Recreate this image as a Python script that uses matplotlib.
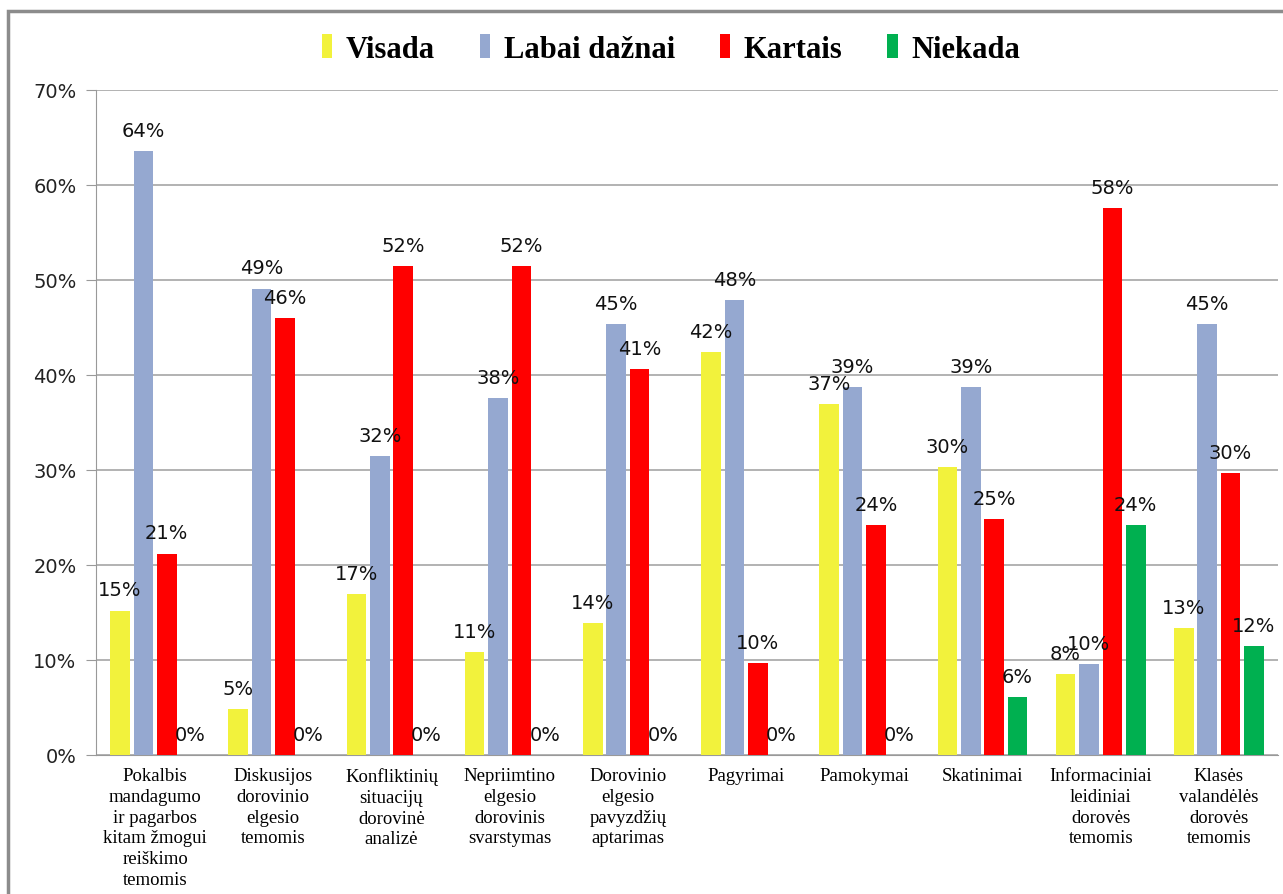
import numpy as np
import matplotlib.pyplot as plt
from matplotlib.patches import Rectangle

categories = ["Pokalbis\nmandagumo\nir pagarbos\nkitam žmogui\nreiškimo\ntemomis",
              "Diskusijos\ndorovinio\nelgesio\ntemomis",
              "Konfliktinių\nsituacijų\ndorovinė\nanalizė",
              "Nepriimtino\nelgesio\ndorovinis\nsvarstymas",
              "Dorovinio\nelgesio\npavyzdžių\naptarimas",
              "Pagyrimai",
              "Pamokymai",
              "Skatinimai",
              "Informaciniai\nleidiniai\ndorovės\ntemomis",
              "Klasės\nvalandėlės\ndorovės\ntemomis"]
visada = [15.2, 4.8, 16.9, 10.8, 13.9, 42.4, 36.9, 30.3, 8.5, 13.4]
labai_dazniai = [63.6, 49.1, 31.5, 37.6, 45.4, 47.9, 38.7, 38.7, 9.6, 45.4]
kartais = [21.2, 46.0, 51.5, 51.5, 40.6, 9.7, 24.2, 24.8, 57.6, 29.7]
niekada = [0, 0, 0, 0, 0, 0, 0, 6.1, 24.2, 11.5]
series_names = ["Visada", "Labai dažnai", "Kartais", "Niekada"]
colors = ["#F2F23C", "#95A8D0", "#FF0000", "#00B050"]

fig = plt.figure(figsize=(12.83, 8.95), dpi=100)
ax = fig.add_axes([96/1283, 1-756/895, 1182/1283, 665/895])

# outer chart border
fig.patches.append(Rectangle((8/1283, -0.05), 1.1, 1-12/895+0.05, transform=fig.transFigure,
                             fill=False, edgecolor="#8c8c8c", linewidth=2.5))

x = np.arange(len(categories))
step = 0.198
width = 0.165
all_series = [visada, labai_dazniai, kartais, niekada]
for i, (vals, name, col) in enumerate(zip(all_series, series_names, colors)):
    bars = ax.bar(x + (i - 1.5) * step, vals, width, color=col, label=name, zorder=3)
    ax.bar_label(bars, labels=[f"{v:.0f}%" for v in vals], padding=8,
                 fontsize=14, color="#111111", zorder=4)

ax.set_xlim(-0.5, len(categories) - 0.5)
ax.set_ylim(0, 70)
ax.set_yticks(range(0, 71, 10))
ax.set_yticklabels([f"{t}%" for t in range(0, 71, 10)], fontsize=14, color="#222222")
ax.set_xticks(x)
ax.set_xticklabels(categories, family="Liberation Serif", fontsize=13.5, linespacing=1.28)
ax.tick_params(axis="x", length=0, pad=9)
ax.tick_params(axis="y", length=7, color="#999999", pad=7)
ax.yaxis.grid(True, color="#a6a6a6", linewidth=1.2, zorder=0)
for s in ["top", "right"]:
    ax.spines[s].set_visible(False)
ax.spines["left"].set_color("#999999")
ax.spines["bottom"].set_color("#999999")

leg = fig.legend(loc="center", bbox_to_anchor=(0.523, 1-50/895), ncol=4, frameon=False,
                 prop={"family": "Liberation Serif", "weight": "bold", "size": 22},
                 handlelength=0.35, handleheight=0.8, handletextpad=0.45, columnspacing=1.45)

fig.savefig("out.png", dpi=100)
